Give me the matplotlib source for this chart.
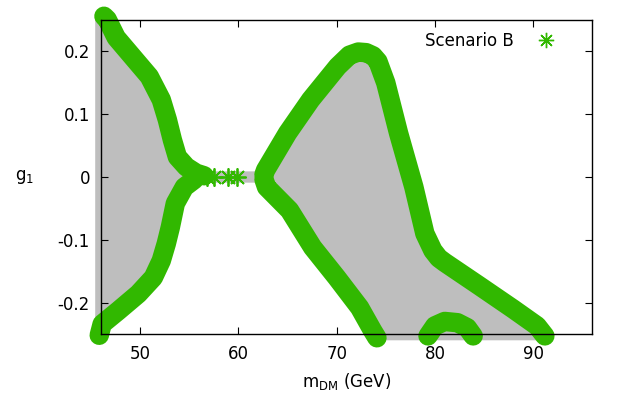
import numpy as np
import matplotlib
matplotlib.use("Agg")
import matplotlib.pyplot as plt
from matplotlib.lines import Line2D

# scenario B points (green band), centre lines
ul_x = [46.3, 46.63, 47.55, 49.18, 50.92, 52.14, 52.76, 53.27, 53.78, 54.7, 55.7, 56.5]
ul_y = [0.256, 0.251, 0.222, 0.192, 0.160, 0.123, 0.091, 0.059, 0.032, 0.016, 0.006, 0.002]
ll_x = [55.5, 54.49, 53.57, 53.06, 52.65, 52.14, 51.33, 49.8, 47.76, 46.12, 45.82]
ll_y = [-0.004, -0.016, -0.042, -0.080, -0.106, -0.133, -0.160, -0.186, -0.213, -0.234, -0.252]
neck_x = [56.8, 57.5, 58.9, 59.9]
neck_y = [0.0, 0.0, 0.0, 0.0]
rt_x = [62.6, 62.76, 65.0, 67.35, 70.1, 71.3, 72.2, 73.0, 73.7, 74.2, 75.0, 76.3, 77.86,
        78.98, 79.8, 80.4, 81.0, 84.5, 87.96, 90.4, 91.2]
rt_y = [0.004, 0.011, 0.070, 0.123, 0.176, 0.194, 0.199, 0.198, 0.193, 0.184, 0.150, 0.070, -0.016,
        -0.090, -0.117, -0.129, -0.136, -0.173, -0.210, -0.237, -0.253]
rl_x = [62.6, 62.86, 65.2, 67.55, 70.0, 72.34, 73.67, 74.1]
rl_y = [-0.004, -0.016, -0.053, -0.112, -0.160, -0.208, -0.245, -0.256]
hump_x = [79.3, 80.0, 81.0, 82.3, 83.3, 83.9]
hump_y = [-0.253, -0.237, -0.230, -0.232, -0.240, -0.253]

# allowed region (grey): left edge, left lobe, neck, right lobe, bottom edge
edge_x = [45.41]
edge_top, edge_bot = 0.257, -0.26
neck_half = 0.009
neck_end = 62.3
right_bottom_x = [91.5, 74.2]

green = '#31b800'
grey = '#bebebe'

region_x = (edge_x + ul_x[1:-2] + [55.0, neck_end] + rt_x[1:-1] + right_bottom_x
            + rl_x[1:-1][::-1] + [neck_end, 55.0] + ll_x[1:] + edge_x)
region_y = ([edge_top] + ul_y[1:-2] + [neck_half, neck_half] + rt_y[1:-1] + [edge_bot, edge_bot]
            + rl_y[1:-1][::-1] + [-neck_half, -neck_half] + ll_y[1:] + [edge_bot])

fig = plt.figure(figsize=(6.25, 4.17), dpi=100)
ax = fig.add_axes([0.1616, 0.199, 0.7856, 0.753])

ax.fill(region_x, region_y, color=grey, lw=0, clip_on=False, zorder=1)

for bx, by in [(ul_x, ul_y), (ll_x, ll_y), (rt_x, rt_y), (rl_x, rl_y), (hump_x, hump_y)]:
    ax.plot(bx, by, color=green, lw=14, solid_capstyle='round',
            solid_joinstyle='round', clip_on=False, zorder=2)
ax.plot(neck_x, neck_y, ls='none', marker=(8, 2, 0), ms=13, mew=1.3, color=green,
        clip_on=False, zorder=2)

ax.set_xlim(46, 96)
ax.set_ylim(-0.25, 0.25)
ax.set_xticks([50, 60, 70, 80, 90])
ax.set_yticks([-0.2, -0.1, 0, 0.1, 0.2])
ax.set_yticklabels(['-0.2', '-0.1', '0', '0.1', '0.2'])
ax.tick_params(direction='in', top=True, right=True, length=5, width=0.8,
               labelsize=12, colors='black')
ax.tick_params(axis='x', pad=8)
ax.tick_params(axis='y', pad=8)
for s in ax.spines.values():
    s.set_linewidth(1.0)
    s.set_zorder(3)

ax.set_xlabel(r'm$_{\mathrm{DM}}$ (GeV)', fontsize=12, labelpad=6)
ax.set_ylabel(r'g$_1$', fontsize=12, rotation=0, labelpad=0)
ax.yaxis.set_label_coords(-0.155, 0.47)

h = Line2D([], [], ls='none', marker=(8, 2, 0), ms=11, mew=1.0, color=green)
ax.legend([h], ['Scenario B'], loc='upper right', frameon=False, markerfirst=False,
          fontsize=12, handletextpad=0.9, bbox_to_anchor=(0.97, 1.01))

fig.savefig('out.png', dpi=100)
